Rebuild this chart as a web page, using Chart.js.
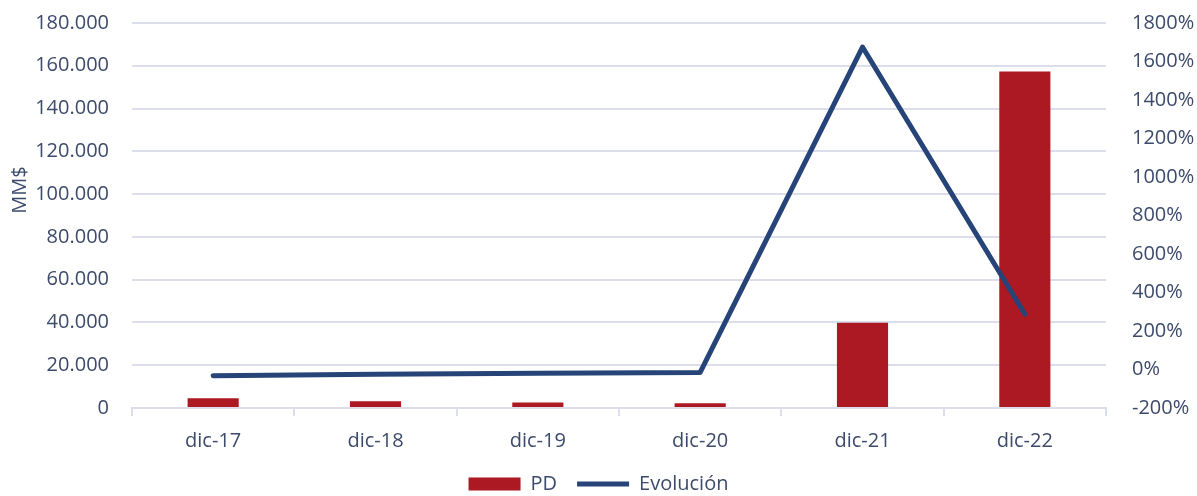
<!DOCTYPE html>
<html>
<head>
<meta charset="utf-8">
<script src="https://cdn.jsdelivr.net/npm/chart.js@4/dist/chart.umd.min.js"></script>
<style>
  html, body { margin: 0; padding: 0; background: #ffffff; }
  #wrap { position: relative; width: 1197px; height: 496px; }
</style>
</head>
<body>
<div id="wrap"><canvas id="c"></canvas></div>
<script>
// Periods on the category axis
const categories = ['dic-17', 'dic-18', 'dic-19', 'dic-20', 'dic-21', 'dic-22'];
// PD amounts (MM$)
const pdValues = [4600, 3200, 2600, 2200, 39800, 157300];
// Year-over-year change (%)
const evolucion = [-32, -25, -20, -15, 1675, 288];

const leftTicks = { min: 0, max: 180000, step: 20000 };
const rightTicks = { min: -200, max: 1800, step: 200 };

const textColor = '#3C4A6B';
const gridColor = '#DCDEEC';
const barColor = '#AD1923';
const lineColor = '#264478';
const fontFamily = '"Open Sans", "Noto Sans", sans-serif';
const fontSize = 20;
const invisible = 'rgba(0,0,0,0)';

function thousands(v) {
  const s = Math.round(Math.abs(v)).toString().replace(/\B(?=(\d{3})+(?!\d))/g, '.');
  return (v < 0 ? '-' : '') + s;
}

// Rotated unit label beside the left axis
const unitLabel = {
  id: 'unitLabel',
  afterDraw(chart) {
    const ctx = chart.ctx;
    ctx.save();
    ctx.translate(20, 190);
    ctx.rotate(-Math.PI / 2);
    ctx.fillStyle = textColor;
    ctx.font = fontSize + 'px ' + fontFamily;
    ctx.textAlign = 'center';
    ctx.textBaseline = 'middle';
    ctx.fillText('MM$', 0, 0);
    ctx.restore();
  }
};

new Chart(document.getElementById('c'), {
  data: {
    labels: categories,
    datasets: [
      {
        type: 'bar',
        label: 'PD',
        data: pdValues,
        backgroundColor: barColor,
        yAxisID: 'y',
        order: 1,
        pointStyle: 'rect',
        categoryPercentage: 1,
        barPercentage: 0.315
      },
      {
        type: 'line',
        label: 'Evolución',
        data: evolucion,
        borderColor: lineColor,
        backgroundColor: lineColor,
        borderWidth: 5,
        borderCapStyle: 'round',
        borderJoinStyle: 'round',
        pointRadius: 0,
        pointHoverRadius: 0,
        pointStyle: 'line',
        tension: 0,
        yAxisID: 'y1',
        order: 0
      }
    ]
  },
  options: {
    responsive: true,
    maintainAspectRatio: false,
    animation: false,
    layout: { padding: { left: 0, right: 0, top: 23, bottom: -8 } },
    plugins: {
      tooltip: { enabled: false },
      legend: {
        position: 'bottom',
        labels: {
          usePointStyle: true,
          pointStyleWidth: 52,
          boxHeight: 13,
          padding: 20,
          color: textColor,
          font: { family: fontFamily, size: fontSize },
          sort: (a, b) => a.datasetIndex - b.datasetIndex
        }
      }
    },
    scales: {
      x: {
        offset: true,
        afterFit: s => { s.height = 46; },
        grid: {
          offset: true,
          drawOnChartArea: false,
          drawTicks: true,
          tickLength: 8,
          color: gridColor,
          lineWidth: 2
        },
        border: { color: gridColor, width: 2 },
        ticks: {
          color: textColor,
          font: { family: fontFamily, size: fontSize },
          padding: 13,
          maxRotation: 0
        }
      },
      y: {
        position: 'left',
        min: leftTicks.min,
        max: leftTicks.max,
        afterFit: s => { s.width = 132; },
        grid: { color: gridColor, lineWidth: 2, drawTicks: true, tickLength: 23, tickColor: invisible },
        border: { display: false },
        ticks: {
          stepSize: leftTicks.step,
          padding: 0,
          color: textColor,
          font: { family: fontFamily, size: fontSize },
          callback: v => thousands(v)
        }
      },
      y1: {
        position: 'right',
        min: rightTicks.min,
        max: rightTicks.max,
        afterFit: s => { s.width = 91; },
        grid: { drawOnChartArea: false, drawTicks: true, tickLength: 26, tickColor: invisible },
        border: { display: false },
        ticks: {
          stepSize: rightTicks.step,
          padding: 0,
          color: textColor,
          font: { family: fontFamily, size: fontSize },
          callback: v => v + '%'
        }
      }
    }
  },
  plugins: [unitLabel]
});
</script>
</body>
</html>
